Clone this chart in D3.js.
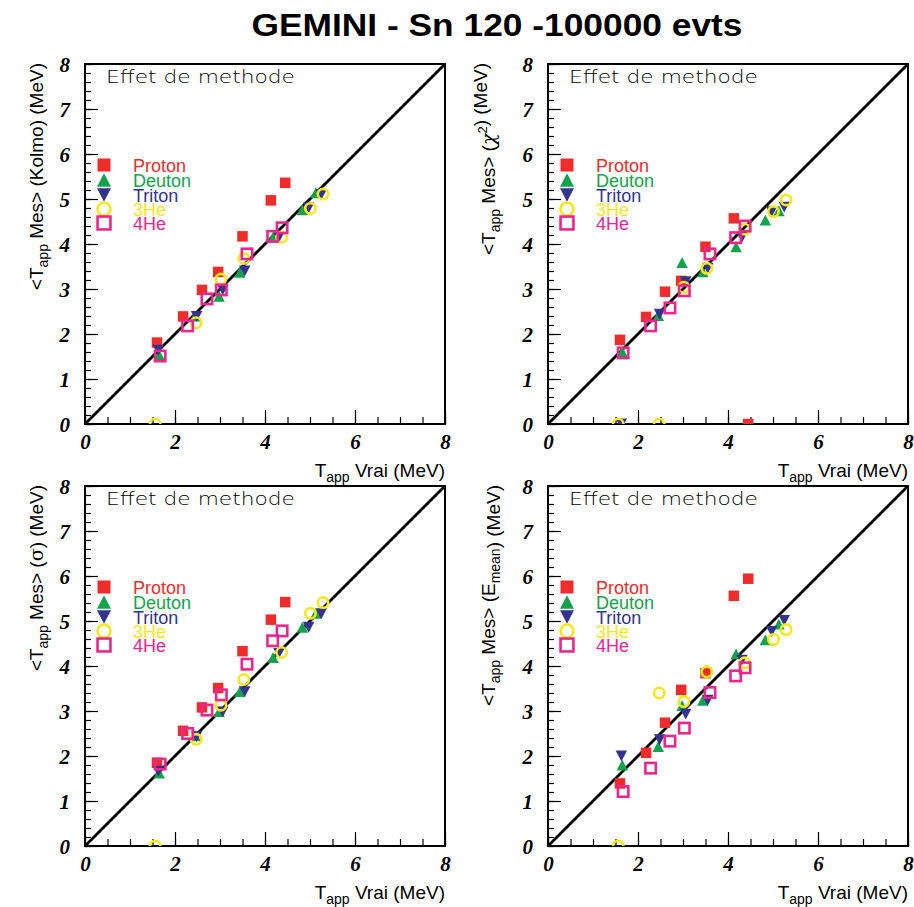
<!DOCTYPE html>
<html><head><meta charset="utf-8">
<script src="https://cdn.jsdelivr.net/npm/d3@7"></script>
<style>body{margin:0;background:#fff}</style>
</head><body>
<svg id="c" width="914" height="907" xmlns="http://www.w3.org/2000/svg"></svg>
<script>
// ---------------- data ----------------
const particles = ["Proton", "Deuton", "Triton", "3He", "4He"];
const colors = ["#ee2c2c", "#14a24c", "#34348f", "#f4e81c", "#e8288c"];
const shapes = ["fsquare", "tup", "tdown", "circle", "osquare"];

// true apparent temperature (x) per particle
const tVrai = [
  [1.60, 2.18, 2.60, 2.96, 3.50, 4.13, 4.45],
  [1.65, 2.45, 2.98, 3.44, 4.18, 4.83, 5.13],
  [1.63, 2.48, 3.06, 3.55, 4.31, 4.97, 5.25],
  [1.56, 2.47, 3.02, 3.53, 4.37, 5.01, 5.29],
  [1.67, 2.28, 2.71, 3.03, 3.60, 4.17, 4.38]
];
// measured values, one array per method (rows = particles)
const mesKolmo = [
  [1.81, 2.39, 2.98, 3.38, 4.17, 4.97, 5.36],
  [1.53, 2.40, 2.84, 3.37, 4.15, 4.76, 5.14],
  [1.64, 2.39, 2.98, 3.40, 4.15, 4.80, 5.10],
  [0.00, 2.25, 3.22, 3.68, 4.15, 4.79, 5.11],
  [1.51, 2.18, 2.78, 2.98, 3.78, 4.17, 4.36]
];
const mesChi2 = [
  [1.87, 2.38, 2.94, 3.18, 3.94, 4.57, 0.00],
  [1.60, 2.41, 3.59, 3.38, 3.94, 4.53, 4.74],
  [0.00, 2.44, 3.16, 3.46, 4.15, 4.72, 4.82],
  [0.00, 0.00, 3.04, 3.46, 4.33, 4.72, 4.98],
  [1.58, 2.18, 2.58, 2.96, 3.78, 4.14, 4.40]
];
const mesSigma = [
  [1.85, 2.56, 3.08, 3.51, 4.33, 5.03, 5.42],
  [1.62, 2.45, 2.99, 3.43, 4.19, 4.86, 5.17],
  [1.66, 2.43, 2.98, 3.43, 4.28, 4.86, 5.16],
  [0.00, 2.37, 3.13, 3.70, 4.30, 5.17, 5.41],
  [1.82, 2.50, 3.02, 3.36, 4.04, 4.56, 4.78]
];
const mesEmean = [
  [1.39, 2.07, 2.74, 3.47, 3.84, 5.56, 5.94],
  [1.80, 2.21, 3.12, 3.24, 4.27, 4.58, 4.93],
  [2.00, 2.36, 2.93, 3.24, 4.13, 4.77, 5.01],
  [0.00, 3.40, 3.21, 3.87, 4.07, 4.59, 4.81],
  [1.21, 1.73, 2.33, 2.62, 3.41, 3.78, 3.96]
];
const xTickLabels = ["0", "2", "4", "6", "8"];
const yTickLabels = ["0", "1", "2", "3", "4", "5", "6", "7", "8"];
const titleText = "GEMINI - Sn 120 -100000 evts";
const panelNote = "Effet de methode";

// ---------------- drawing ----------------
const svg = d3.select("#c");
svg.append("rect").attr("width", 914).attr("height", 907).attr("fill", "#fff");

svg.append("text").attr("x", 497).attr("y", 36).attr("text-anchor", "middle")
  .attr("font-family", "'Liberation Sans', Arial, sans-serif").attr("font-weight", "bold")
  .attr("font-size", 31).attr("textLength", 491).attr("lengthAdjust", "spacingAndGlyphs")
  .text(titleText);

const S = 360;
const panels = [
  { vals: mesKolmo, left: 85, top: 64, titleX: 43, method: "kolmo" },
  { vals: mesChi2, left: 548, top: 64, titleX: 495, method: "chi" },
  { vals: mesSigma, left: 85, top: 486, titleX: 43, method: "sigma" },
  { vals: mesEmean, left: 548, top: 486, titleX: 495, method: "emean" }
];

let clipId = 0;
function markerPath(g, shape, cx, cy, size, color) {
  const h = size / 2;
  if (shape === "fsquare") {
    g.append("rect").attr("x", cx - h).attr("y", cy - h).attr("width", size).attr("height", size).attr("fill", color);
  } else if (shape === "osquare") {
    const s = size - 2.6;
    g.append("rect").attr("x", cx - s / 2).attr("y", cy - s / 2).attr("width", s).attr("height", s)
      .attr("fill", "none").attr("stroke", color).attr("stroke-width", 2.6);
  } else if (shape === "circle") {
    g.append("circle").attr("cx", cx).attr("cy", cy).attr("r", (size - 2.6) / 2)
      .attr("fill", "none").attr("stroke", color).attr("stroke-width", 2.6);
  } else if (shape === "tup") {
    g.append("path").attr("d", `M${cx - h},${cy + h * 0.95}L${cx + h},${cy + h * 0.95}L${cx},${cy - h * 0.95}Z`).attr("fill", color);
  } else if (shape === "tdown") {
    g.append("path").attr("d", `M${cx - h},${cy - h * 0.95}L${cx + h},${cy - h * 0.95}L${cx},${cy + h * 0.95}Z`).attr("fill", color);
  }
}

panels.forEach(p => {
  const x = d3.scaleLinear().domain([0, 8]).range([p.left, p.left + S]);
  const y = d3.scaleLinear().domain([0, 8]).range([p.top + S, p.top]);
  const g = svg.append("g");
  const id = "clip" + (clipId++);
  g.append("clipPath").attr("id", id).append("rect")
    .attr("x", p.left).attr("y", p.top).attr("width", S).attr("height", S);

  // ticks (inward)
  const yMinor = g.append("g").attr("transform", `translate(${p.left},0)`)
    .call(d3.axisRight(y).tickValues(d3.range(0, 8.001, 0.2)).tickSize(6).tickFormat(""));
  const yMajor = g.append("g").attr("transform", `translate(${p.left},0)`)
    .call(d3.axisRight(y).tickValues(d3.range(0, 8.001, 1)).tickSize(13).tickFormat(""));
  const xMinor = g.append("g").attr("transform", `translate(0,${p.top + S})`)
    .call(d3.axisTop(x).tickValues(d3.range(0, 8.001, 0.5)).tickSize(7).tickFormat(""));
  const xMajor = g.append("g").attr("transform", `translate(0,${p.top + S})`)
    .call(d3.axisTop(x).tickValues(d3.range(0, 8.001, 2)).tickSize(14).tickFormat(""));
  [yMinor, yMajor, xMinor, xMajor].forEach(a => {
    a.select(".domain").remove();
    a.selectAll("line").attr("stroke", "#000").attr("stroke-width", 1.2);
  });

  // tick labels
  const yl = g.append("g").attr("transform", `translate(${p.left},0)`)
    .call(d3.axisLeft(y).tickValues(yTickLabels.map(Number)).tickSize(0).tickPadding(15)
      .tickFormat((d, i) => yTickLabels[i]));
  const xl = g.append("g").attr("transform", `translate(0,${p.top + S})`)
    .call(d3.axisBottom(x).tickValues(xTickLabels.map(Number)).tickSize(0).tickPadding(10)
      .tickFormat((d, i) => xTickLabels[i]));
  [yl, xl].forEach(a => {
    a.select(".domain").remove();
    a.selectAll("text").attr("font-family", "'Liberation Serif', 'Times New Roman', serif")
      .attr("font-weight", "bold").attr("font-style", "italic").attr("font-size", 21).attr("fill", "#000");
  });
  yl.selectAll("text").attr("dy", "0.36em");
  xl.selectAll("text").attr("dy", "0.71em");

  // frame
  g.append("rect").attr("x", p.left).attr("y", p.top).attr("width", S).attr("height", S)
    .attr("fill", "none").attr("stroke", "#000").attr("stroke-width", 2);

  // diagonal
  g.append("line").attr("x1", x(0)).attr("y1", y(0)).attr("x2", x(8)).attr("y2", y(8))
    .attr("stroke", "#000").attr("stroke-width", 2.8);

  // data markers
  const mg = g.append("g").attr("clip-path", `url(#${id})`);
  particles.forEach((name, k) => {
    tVrai[k].forEach((tv, i) => {
      const sz = shapes[k] === "fsquare" ? 10.5 : (shapes[k] === "tup" || shapes[k] === "tdown") ? 11.5 : 13;
      markerPath(mg, shapes[k], x(tv), y(p.vals[k][i]), sz, colors[k]);
    });
  });

  // note
  g.append("text").attr("x", p.left + 21).attr("y", p.top + 19)
    .attr("font-family", "'DejaVu Sans', sans-serif").attr("font-weight", 200)
    .attr("font-size", 17).attr("textLength", 189).attr("lengthAdjust", "spacingAndGlyphs")
    .attr("fill", "#000").text(panelNote);

  // legend
  const rows = [101, 116, 131, 145, 159];
  particles.forEach((name, k) => {
    const cy = p.top + rows[k];
    const sz = shapes[k] === "fsquare" ? 13 : (shapes[k] === "tup" || shapes[k] === "tdown") ? 14 : 15.5;
    markerPath(g, shapes[k], p.left + 19, cy, sz, colors[k]);
    g.append("text").attr("x", p.left + 48).attr("y", cy + 6.5)
      .attr("font-family", "'Liberation Sans', Arial, sans-serif").attr("font-size", 18)
      .attr("fill", colors[k]).text(name);
  });

  // x title
  const xt = g.append("text").attr("x", p.left + S).attr("y", p.top + S + 53).attr("text-anchor", "end")
    .attr("font-family", "'Liberation Sans', Arial, sans-serif").attr("font-size", 19).attr("fill", "#000");
  xt.append("tspan").text("T");
  xt.append("tspan").attr("font-size", 14).attr("dy", 5).text("app");
  xt.append("tspan").attr("dy", -5).text(" Vrai (MeV)");

  // y title
  const yt = g.append("text").attr("transform", `translate(${p.titleX},${p.top - 1}) rotate(-90)`)
    .attr("text-anchor", "end")
    .attr("font-family", "'Liberation Sans', Arial, sans-serif").attr("font-size", 19).attr("fill", "#000");
  yt.append("tspan").text("<T");
  yt.append("tspan").attr("font-size", 14).attr("dy", 5).text("app");
  yt.append("tspan").attr("dy", -5).text(" Mes> (");
  if (p.method === "kolmo") {
    yt.append("tspan").text("Kolmo");
  } else if (p.method === "chi") {
    yt.append("tspan").attr("font-family", "'DejaVu Serif', serif").attr("font-style", "italic").text("χ");
    yt.append("tspan").attr("font-size", 13).attr("dy", -8).text("2");
    yt.append("tspan").attr("dy", 8).text("");
  } else if (p.method === "sigma") {
    yt.append("tspan").attr("font-family", "'DejaVu Serif', serif").text("σ");
  } else {
    yt.append("tspan").text("E");
    yt.append("tspan").attr("font-size", 14).attr("dy", 5).text("mean");
    yt.append("tspan").attr("dy", -5).text("");
  }
  yt.append("tspan").text(") (MeV)");
});
</script>
</body></html>
